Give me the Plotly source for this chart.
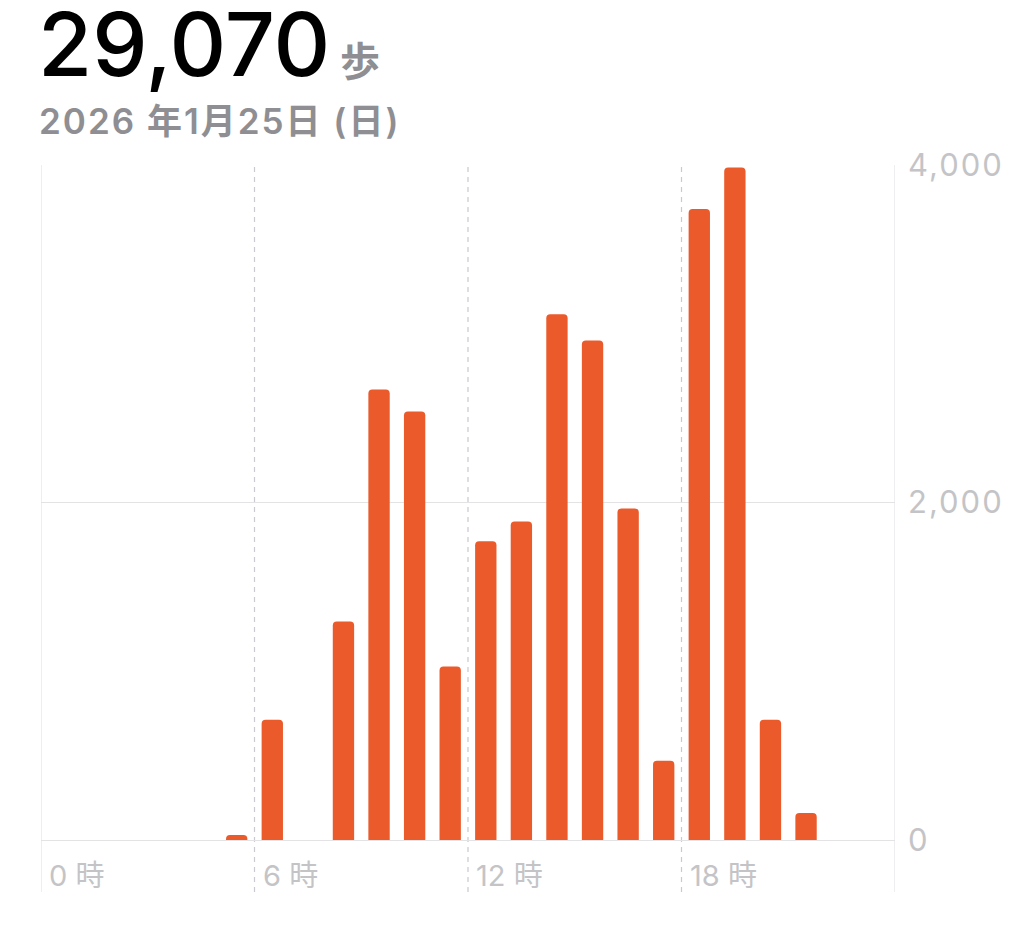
import plotly.graph_objects as go

hours = list(range(24))
steps = [0, 0, 0, 0, 0, 30, 712, 0, 1295, 2670, 2540, 1028, 1770, 1888,
         3115, 2960, 1965, 470, 3740, 3985, 712, 160, 0, 0]
total_text = "29,070"
unit_text = "歩"
date_text = "2026 年1月25日 (日)"
x_label_hours = [0, 6, 12, 18]
x_label_text = ["0 時", "6 時", "12 時", "18 時"]
y_tick_vals = [0, 2000, 4000]
y_tick_text = ["0", "2,000", "4,000"]

BAR = "#EB5A2B"
GRID = "#E3E3E6"
DASH = "#C9C9D0"
LABEL = "#C4C4C7"
FONT = "Inter, Noto Sans CJK JP, sans-serif"
LS = "letter-spacing:2px"

fig = go.Figure()
fig.add_trace(go.Bar(
    x=[h + 0.5 for h in hours], y=steps, width=0.6,
    marker=dict(color=BAR, line=dict(width=0)),
    hoverinfo="skip",
))

# dashed vertical guides + solid borders
for h in [6, 12, 18]:
    fig.add_shape(type="line", xref="x", yref="paper", x0=h, x1=h, y0=0, y1=1,
                  line=dict(color=DASH, width=1.2, dash="5px,5px"), layer="below")
for h in [0, 24]:
    fig.add_shape(type="line", xref="x", yref="paper", x0=h, x1=h, y0=0, y1=1,
                  line=dict(color=GRID, width=1.2), layer="below")

for h, t in zip(x_label_hours, x_label_text):
    fig.add_annotation(x=h, y=-213, xref="x", yref="y", text=t, showarrow=False,
                       xanchor="left", yanchor="middle", xshift=6,
                       font=dict(family=FONT, size=29, color=LABEL))

fig.add_annotation(x=0, y=1, xref="paper", yref="paper", xanchor="left", yanchor="bottom",
                   xshift=-5, yshift=66, showarrow=False,
                   text=f"<span style='font-size:88px;color:#000000'>{total_text}</span>"
                        f"<span style='font-size:40px;color:#8E8E93'><b> {unit_text}</b></span>",
                   font=dict(family=FONT, size=40, color="#000000", weight=500))
fig.add_annotation(x=0, y=1, xref="paper", yref="paper", xanchor="left", yanchor="bottom",
                   xshift=-4, yshift=21, showarrow=False,
                   text=f"<span style='{LS}'>{date_text}</span>",
                   font=dict(family=FONT, size=35, color="#8E8E93", weight=600))

fig.update_layout(
    width=1016, height=934,
    margin=dict(l=33, r=129, t=157, b=50),
    paper_bgcolor="white", plot_bgcolor="white",
    showlegend=False, barcornerradius=4,
    xaxis=dict(range=[0, 24], showgrid=False, zeroline=False, showticklabels=False,
               ticks="", fixedrange=True),
    yaxis=dict(range=[-308, 4000], side="right", tickvals=y_tick_vals,
               ticktext=[f"<span style='{LS}'>{t}</span>" for t in y_tick_text],
               showgrid=True, gridcolor=GRID, gridwidth=1.2, zeroline=False,
               ticks="", ticklabelstandoff=12,
               tickfont=dict(family=FONT, size=31, color=LABEL), fixedrange=True),
)

fig.write_html("out.html")
